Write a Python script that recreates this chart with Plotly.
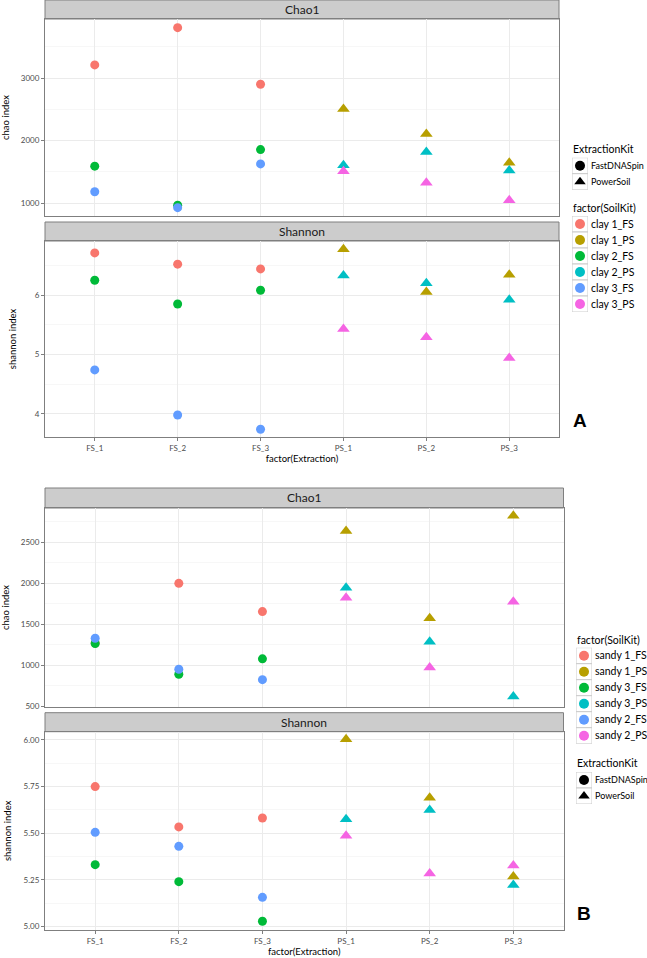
import plotly.graph_objects as go

W, H = 647, 958

extraction_levels = ["FS_1", "FS_2", "FS_3", "PS_1", "PS_2", "PS_3"]
fs_x = ["FS_1", "FS_2", "FS_3"]
ps_x = ["PS_1", "PS_2", "PS_3"]

# Panel A (clay)
clay_groups = ["clay 1_FS", "clay 1_PS", "clay 2_FS", "clay 2_PS", "clay 3_FS", "clay 3_PS"]
clay_chao = {
    "clay 1_FS": [3210, 3805, 2900],
    "clay 1_PS": [2505, 2105, 1645],
    "clay 2_FS": [1590, 965, 1855],
    "clay 2_PS": [1605, 1815, 1520],
    "clay 3_FS": [1180, 925, 1625],
    "clay 3_PS": [1510, 1325, 1045],
}
clay_shannon = {
    "clay 1_FS": [6.71, 6.52, 6.44],
    "clay 1_PS": [6.77, 6.05, 6.34],
    "clay 2_FS": [6.25, 5.85, 6.08],
    "clay 2_PS": [6.33, 6.20, 5.92],
    "clay 3_FS": [4.74, 3.98, 3.74],
    "clay 3_PS": [5.43, 5.29, 4.94],
}

# Panel B (sandy)
sandy_groups = ["sandy 1_FS", "sandy 1_PS", "sandy 3_FS", "sandy 3_PS", "sandy 2_FS", "sandy 2_PS"]
sandy_chao = {
    "sandy 1_FS": [1270, 2000, 1655],
    "sandy 1_PS": [2640, 1575, 2825],
    "sandy 3_FS": [1265, 890, 1078],
    "sandy 3_PS": [1945, 1288, 617],
    "sandy 2_FS": [1330, 951, 824],
    "sandy 2_PS": [1825, 971, 1776],
}
sandy_shannon = {
    "sandy 1_FS": [5.75, 5.534, 5.582],
    "sandy 1_PS": [6.004, 5.69, 5.268],
    "sandy 3_FS": [5.332, 5.241, 5.029],
    "sandy 3_PS": [5.575, 5.625, 5.223],
    "sandy 2_FS": [5.505, 5.43, 5.157],
    "sandy 2_PS": [5.487, 5.284, 5.327],
}

hue6 = ["#F8766D", "#B79F00", "#00BA38", "#00BFC4", "#619CFF", "#F564E3"]
kit_names = ["FastDNASpin", "PowerSoil"]
kit_symbols = ["circle", "triangle-up"]

FONT = "Lato"
fig = go.Figure()


def add_points(groups, data, xa, ya):
    for g, col in zip(groups, hue6):
        is_fs = g.endswith("_FS")
        fig.add_trace(go.Scatter(
            x=fs_x if is_fs else ps_x, y=data[g], mode="markers",
            marker=dict(color=col, size=9 if is_fs else 11,
                        symbol="circle" if is_fs else "triangle-up", line=dict(width=0)),
            xaxis=xa, yaxis=ya, showlegend=False, hoverinfo="x+y+name", name=g))


add_points(clay_groups, clay_chao, "x", "y")
add_points(clay_groups, clay_shannon, "x2", "y2")
add_points(sandy_groups, sandy_chao, "x3", "y3")
add_points(sandy_groups, sandy_shannon, "x4", "y4")


def py(px):
    return 1 - px / H


def pxx(px):
    return px / W


# ---- legend keys drawn on small auxiliary axes (category axes = legend entries)
def add_key_column(labels, colors, symbols, xa, ya):
    n = len(labels)
    fig.add_trace(go.Scatter(x=["k"] * n, y=labels, mode="markers", xaxis=xa, yaxis=ya,
                             marker=dict(symbol="square", size=16, color="white",
                                         line=dict(color="#CCCCCC", width=1)),
                             showlegend=False, hoverinfo="skip"))
    fig.add_trace(go.Scatter(x=["k"] * n, y=labels, mode="markers", xaxis=xa, yaxis=ya,
                             marker=dict(symbol=symbols, size=10, color=colors, line=dict(width=0)),
                             showlegend=False, hoverinfo="skip"))


add_key_column(kit_names, ["black"] * 2, kit_symbols, "x5", "y5")
add_key_column(clay_groups, hue6, ["circle"] * 6, "x6", "y6")
add_key_column(sandy_groups, hue6, ["circle"] * 6, "x7", "y7")
add_key_column(kit_names, ["black"] * 2, kit_symbols, "x8", "y8")

A_dom = [pxx(45), pxx(559)]
B_dom = [pxx(45), pxx(563.5)]

grid_major = "#EBEBEB"
grid_minor = "#F7F7F7"
border = "#7F7F7F"
tickc = "#4D4D4D"

common_x = dict(type="category", categoryorder="array", categoryarray=extraction_levels,
                range=[-0.6, 5.6], showgrid=True, gridcolor=grid_major, gridwidth=1,
                showline=True, mirror=True, linecolor=border, linewidth=1, zeroline=False,
                tickfont=dict(family=FONT, size=8, color=tickc))
common_y = dict(showgrid=True, gridcolor=grid_major, gridwidth=1, showline=True, mirror=True,
                linecolor=border, linewidth=1, zeroline=False, ticks="outside", ticklen=3,
                tickcolor=border, tickfont=dict(family=FONT, size=8, color=tickc))
title_font = dict(family=FONT, size=9.5, color="black")

fig.update_layout(
    xaxis=dict(common_x, domain=A_dom, anchor="y", showticklabels=False, ticks=""),
    yaxis=dict(common_y, domain=[py(216), py(19)], anchor="x", range=[792, 3944],
               tick0=0, dtick=1000, minor=dict(dtick=500, showgrid=True, gridcolor=grid_minor),
               title=dict(text="chao index", font=title_font, standoff=10)),
    xaxis2=dict(common_x, domain=A_dom, anchor="y2", ticks="outside", ticklen=3, tickcolor=border,
                title=dict(text="factor(Extraction)", font=title_font, standoff=3)),
    yaxis2=dict(common_y, domain=[py(437), py(241)], anchor="x2", range=[3.61, 6.91],
                tick0=0, dtick=1, minor=dict(dtick=0.5, showgrid=True, gridcolor=grid_minor),
                title=dict(text="shannon index", font=title_font, standoff=16)),
    xaxis3=dict(common_x, domain=B_dom, anchor="y3", showticklabels=False, ticks=""),
    yaxis3=dict(common_y, domain=[py(707), py(508)], anchor="x3", range=[490, 2920],
                tick0=0, dtick=500, minor=dict(dtick=250, showgrid=True, gridcolor=grid_minor),
                title=dict(text="chao index", font=title_font, standoff=10)),
    xaxis4=dict(common_x, domain=B_dom, anchor="y4", ticks="outside", ticklen=3, tickcolor=border,
                title=dict(text="factor(Extraction)", font=title_font, standoff=3)),
    yaxis4=dict(common_y, domain=[py(930), py(731.7)], anchor="x4", range=[4.982, 6.044],
                tick0=0, dtick=0.25, tickformat=".2f",
                minor=dict(dtick=0.125, showgrid=True, gridcolor=grid_minor),
                title=dict(text="shannon index", font=title_font, standoff=10)),
)


def key_axes(n, labels, xdom_px, top_px, size):
    xa = dict(domain=[pxx(xdom_px[0]), pxx(xdom_px[1])], visible=False, type="category",
              range=[-0.5, 0.5], fixedrange=True)
    ya = dict(domain=[py(top_px + 16 * n), py(top_px)], type="category",
              categoryorder="array", categoryarray=list(reversed(labels)),
              range=[-0.5, n - 0.5], side="right", showgrid=False, zeroline=False,
              showline=False, ticks="", ticklabelstandoff=2, fixedrange=True,
              tickfont=dict(family=FONT, size=size, color="black"))
    return xa, ya


xa5, ya5 = key_axes(2, kit_names, (572, 588), 157.7, 9)
xa6, ya6 = key_axes(6, clay_groups, (572, 588), 216, 10.5)
xa7, ya7 = key_axes(6, sandy_groups, (576, 592), 647.7, 10.5)
xa8, ya8 = key_axes(2, kit_names, (576, 592), 772, 9)
fig.update_layout(
    xaxis5=dict(xa5, anchor="y5"), yaxis5=dict(ya5, anchor="x5"),
    xaxis6=dict(xa6, anchor="y6"), yaxis6=dict(ya6, anchor="x6"),
    xaxis7=dict(xa7, anchor="y7"), yaxis7=dict(ya7, anchor="x7"),
    xaxis8=dict(xa8, anchor="y8"), yaxis8=dict(ya8, anchor="x8"),
)

# facet strips
strips = [
    ("Chao1", A_dom, 0, 19),
    ("Shannon", A_dom, 222, 241),
    ("Chao1", B_dom, 488, 508),
    ("Shannon", B_dom, 712.7, 731.7),
]
shapes = []
annotations = []
for text, dom, top, bot in strips:
    shapes.append(dict(type="rect", xref="paper", yref="paper", x0=dom[0], x1=dom[1],
                       y0=py(bot), y1=py(top), fillcolor="#CCCCCC",
                       line=dict(color=border, width=1), layer="below"))
    annotations.append(dict(text=text, xref="paper", yref="paper", x=(dom[0] + dom[1]) / 2,
                            y=py((top + bot) / 2), showarrow=False, xanchor="center",
                            yanchor="middle", font=dict(family=FONT, size=12, color="#1A1A1A")))

legend_titles = [("ExtractionKit", 571, 149), ("factor(SoilKit)", 571, 207.7),
                 ("factor(SoilKit)", 575, 640), ("ExtractionKit", 575, 763)]
for text, xl, yc in legend_titles:
    annotations.append(dict(text=text, xref="paper", yref="paper", x=pxx(xl), y=py(yc),
                            showarrow=False, xanchor="left", yanchor="middle",
                            font=dict(family=FONT, size=10.5, color="black")))

annotations.append(dict(text="<b>A</b>", xref="paper", yref="paper", x=pxx(571), y=py(420),
                        showarrow=False, xanchor="left", yanchor="middle",
                        font=dict(family="Liberation Sans", size=19, color="black")))
annotations.append(dict(text="<b>B</b>", xref="paper", yref="paper", x=pxx(575), y=py(913),
                        showarrow=False, xanchor="left", yanchor="middle",
                        font=dict(family="Liberation Sans", size=19, color="black")))

fig.update_layout(shapes=shapes, annotations=annotations, width=W, height=H,
                  margin=dict(l=0, r=0, t=0, b=0, autoexpand=False), showlegend=False,
                  paper_bgcolor="white", plot_bgcolor="white", font=dict(family=FONT))

fig.write_html("out.html", config={"displayModeBar": False},
               post_script="document.body.style.margin='0px';")
